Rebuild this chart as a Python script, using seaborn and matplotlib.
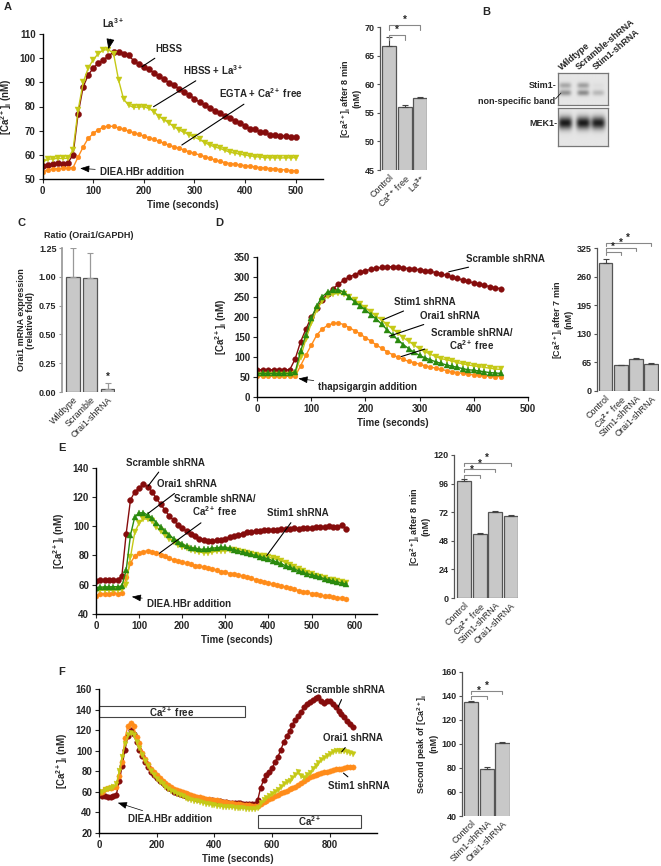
import numpy as np
import matplotlib
matplotlib.use('Agg')
import matplotlib.pyplot as plt
from matplotlib.patches import Rectangle
import seaborn as sns

sns.set_theme(style='ticks')
plt.rcParams['font.family'] = ['Liberation Sans', 'DejaVu Sans']
plt.rcParams['font.weight'] = 'bold'
plt.rcParams['axes.labelweight'] = 'bold'
plt.rcParams['mathtext.fontset'] = 'custom'
plt.rcParams['mathtext.rm'] = 'Liberation Sans:bold'
plt.rcParams['mathtext.it'] = 'Liberation Sans:bold'
plt.rcParams['mathtext.bf'] = 'Liberation Sans:bold'
plt.rcParams['mathtext.default'] = 'rm'

# ---------------- data ----------------
# Panel A: traces (time in s, [Ca2+]i in nM)
a_time = list(range(0, 510, 10))
a_hbss = [55.4, 55.8, 56.0, 56.4, 56.2, 56.6, 60.0, 77.0, 88.2, 93.1, 96.0, 98.0, 99.3, 101.0, 102.6, 102.8,
          102.0, 101.2, 99.0, 97.5, 96.3, 95.4, 94.0, 92.5, 91.3, 89.8, 88.8, 87.2, 86.0, 84.8, 83.3, 81.8,
          80.8, 79.5, 78.2, 77.4, 76.0, 75.2, 74.0, 73.2, 72.0, 70.8, 70.6, 69.5, 69.2, 68.2, 68.3, 67.6,
          67.9, 67.3, 67.2]
a_hbss_la = [57.0, 58.0, 58.3, 58.4, 58.4, 58.5, 62.0, 78.5, 90.0, 96.0, 99.5, 102.0, 103.5, 103.6, 102.0,
             91.0, 83.0, 80.5, 79.6, 79.8, 79.9, 79.2, 77.8, 75.8, 74.5, 73.0, 71.5, 70.2, 69.2, 68.2,
             67.2, 66.3, 65.0, 64.0, 63.2, 62.6, 61.8, 61.0, 60.6, 60.2, 59.8, 59.5, 59.2, 59.0, 58.8,
             58.7, 58.7, 58.6, 58.7, 58.7, 58.8]
a_egta = [52.9, 53.6, 54.0, 54.2, 54.3, 54.4, 54.6, 59.0, 63.2, 66.8, 68.8, 70.4, 71.4, 71.9, 71.7, 71.1,
          70.5, 69.8, 69.1, 68.4, 67.7, 67.0, 66.3, 65.5, 64.7, 63.9, 63.2, 62.6, 61.9, 61.1, 60.5, 59.9,
          59.2, 58.5, 57.8, 57.2, 56.7, 56.3, 56.0, 55.7, 55.4, 55.1, 54.9, 54.6, 54.4, 54.2, 54.0, 53.8,
          53.6, 53.4, 53.3]

# Panel A: bars
a_bar_labels = ['Control', 'Ca$^{2+}$ free', 'La$^{3+}$']
a_bar_values = [66.8, 56.1, 57.6]
a_bar_errors = [1.5, 0.35, 0.25]

# Panel B: blot band intensities (lanes: Wildtype, Scramble-shRNA, Stim1-shRNA)
b_lanes = ['Wildtype', 'Scramble-shRNA', 'Stim1-shRNA']
b_stim1_upper = [0.25, 0.28, 0.03]
b_stim1_lower = [0.33, 0.36, 0.18]
b_mek1 = [0.80, 0.80, 0.78]

# Panel C
c_labels = ['Wildtype', 'Scramble', 'Orai1-shRNA']
c_values = [1.00, 0.99, 0.03]
c_errors = [0.25, 0.22, 0.05]

# Panel D: traces
d_time = list(range(0, 460, 10))
d_scramble = [68, 68, 68, 68, 68, 68, 68, 95, 138, 170, 200, 222, 243, 258, 271, 282, 292, 300, 306, 312,
              316, 319, 322, 324, 325, 326, 325, 323, 321, 320, 318, 316, 314, 311, 308, 304, 300, 297,
              292, 289, 285, 282, 279, 276, 273, 271]
d_stim1 = [55, 55, 55, 55, 55, 55, 55, 58, 100, 145, 185, 218, 240, 252, 257, 259, 258, 250, 242, 233,
           223, 213, 202, 192, 181, 170, 160, 148, 139, 130, 120, 113, 107, 101, 96, 93, 90, 86, 83, 80,
           78, 76, 74, 72, 70, 69]
d_orai1 = [59, 59, 59, 59, 59, 59, 59, 62, 115, 155, 197, 228, 251, 262, 267, 268, 262, 250, 238, 228,
           218, 206, 195, 182, 168, 155, 143, 131, 121, 112, 104, 98, 93, 88, 84, 80, 77, 74, 71, 68,
           67, 65, 63, 61, 60, 59]
d_cafree = [52, 52, 52, 52, 52, 52, 52, 52, 78, 105, 130, 155, 170, 179, 184, 185, 181, 173, 166, 158,
            148, 140, 130, 122, 113, 106, 99, 94, 89, 86, 82, 78, 75, 72, 69, 66, 63, 61, 59, 57,
            55, 54, 53, 52, 51, 51]

# Panel D: bars
d_bar_labels = ['Control', 'Ca$^{2+}$ free', 'Stim1-shRNA', 'Orai1-shRNA']
d_bar_values = [292, 58, 72, 62]
d_bar_errors = [8, 2, 3, 2]

# Panel E: traces
e_time = list(range(0, 590, 10))
e_scramble = [62.5, 63.0, 63.0, 63.5, 63.0, 63.5, 66.0, 95.0, 118.0, 123.5, 126.0, 129.0, 127.0, 123.5,
              119.0, 115.0, 111.0, 107.0, 104.0, 101.0, 98.8, 96.5, 94.8, 93.0, 91.5, 90.8, 90.2, 90.0,
              90.3, 90.8, 91.5, 92.5, 93.5, 94.3, 95.0, 95.8, 96.2, 96.5, 96.8, 97.2, 97.4, 97.5, 97.7,
              97.9, 98.0, 98.2, 98.5, 98.3, 98.6, 99.0, 98.5, 99.3, 99.7, 99.2, 100.0, 99.5, 99.8,
              100.5, 98.0]
e_orai1 = [58.0, 58.3, 58.5, 58.5, 58.7, 58.6, 59.0, 70.0, 94.0, 106.5, 109.0, 109.3, 107.5, 105.5,
           102.5, 99.5, 96.5, 94.0, 91.5, 89.5, 87.8, 86.5, 85.3, 84.8, 84.3, 84.1, 84.5, 85.0, 85.3,
           85.6, 85.5, 84.8, 84.0, 83.2, 82.3, 81.5, 80.7, 80.0, 79.2, 78.5, 77.5, 76.5, 75.5, 74.3,
           73.0, 72.0, 70.8, 69.5, 68.4, 67.4, 66.8, 66.0, 65.0, 64.2, 63.3, 62.5, 61.8, 61.0, 60.5]
e_stim1 = [56.0, 56.2, 56.4, 56.4, 56.5, 56.5, 56.8, 60.0, 79.0, 96.0, 102.0, 105.0, 104.8, 103.5,
           99.5, 96.5, 94.0, 91.5, 89.2, 87.5, 86.0, 85.0, 84.0, 83.3, 82.3, 81.9, 82.0, 82.5, 82.8,
           83.2, 83.3, 83.5, 83.6, 83.0, 82.2, 81.5, 80.8, 80.3, 79.8, 79.5, 78.8, 78.0, 77.3, 76.5,
           75.0, 73.5, 72.0, 70.5, 69.3, 68.3, 67.2, 66.0, 65.0, 64.3, 63.5, 63.0, 62.3, 61.6, 61.0]
e_cafree = [52.0, 53.5, 54.0, 53.6, 54.2, 54.0, 54.5, 65.0, 75.0, 79.5, 81.5, 82.5, 83.3, 82.6, 81.8,
            80.3, 79.5, 78.0, 77.0, 76.0, 75.5, 74.6, 74.0, 73.0, 72.8, 72.0, 71.2, 70.8, 70.0, 69.0,
            68.9, 67.5, 67.0, 66.6, 66.0, 65.0, 64.4, 63.5, 62.7, 62.1, 61.2, 60.3, 59.8, 59.0, 58.3,
            57.5, 57.0, 56.0, 55.3, 54.7, 54.0, 53.7, 53.0, 52.3, 52.0, 51.5, 51.0, 50.7, 50.0]

# Panel E: bars
e_bar_labels = ['Control', 'Ca$^{2+}$ free', 'Stim1-shRNA', 'Orai1-shRNA']
e_bar_values = [98.5, 53.5, 72.5, 69.0]
e_bar_errors = [1.5, 0.7, 0.6, 0.6]

# Panel F: traces
f_time = list(range(0, 890, 10))
f_scramble = [58.3, 55.8, 55.5, 55.1, 55.0, 55.4, 57.0, 70.0, 85.0, 101.0, 114.0, 120.0, 116.0, 108.0,
              101.0, 95.0, 89.2, 84.0, 79.5, 76.2, 73.0, 70.0, 68.0, 66.0, 64.0, 62.3, 60.0, 58.8, 57.8,
              56.8, 55.8, 55.1, 54.4, 53.8, 53.2, 52.7, 52.4, 52.0, 51.8, 51.5, 51.2, 50.8, 50.4, 50.0,
              49.5, 49.2, 49.0, 48.8, 48.7, 48.6, 48.4, 48.2, 48.1, 48.0, 48.0, 52.0, 64.0, 71.0, 76.0,
              79.0, 83.0, 89.0, 94.0, 101.0, 108.0, 114.0, 119.0, 125.0, 130.0, 134.0, 138.0, 142.0,
              145.0, 147.0, 149.0, 151.0, 152.5, 148.0, 146.0, 148.0, 148.0, 145.0, 142.0, 139.0, 136.0,
              133.0, 129.0, 126.0, 123.0]
f_stim1 = [58.3, 60.0, 62.5, 63.2, 63.6, 64.2, 65.0, 75.0, 89.0, 112.0, 124.0, 127.0, 123.5, 113.0,
           107.0, 98.0, 92.0, 87.0, 82.0, 79.0, 76.0, 73.0, 70.0, 68.0, 66.0, 64.5, 63.0, 62.0, 61.0,
           60.0, 59.0, 58.0, 57.0, 56.0, 55.2, 54.4, 53.6, 53.0, 52.6, 52.2, 51.8, 51.4, 50.8, 50.3,
           49.8, 49.3, 48.6, 48.2, 47.8, 47.6, 47.2, 47.0, 46.7, 46.4, 46.2, 46.2, 48.0, 49.5, 51.0,
           52.5, 54.0, 55.3, 56.8, 58.2, 59.5, 61.0, 62.4, 63.8, 65.0, 66.5, 68.0, 70.0, 72.0, 74.0,
           75.5, 76.3, 77.5, 78.3, 79.0, 79.6, 80.3, 81.0, 81.6, 82.0, 82.5, 83.0, 83.6, 84.0, 84.3]
f_orai1 = [58.3, 60.0, 61.5, 62.5, 63.5, 64.5, 67.0, 80.0, 94.0, 106.0, 115.0, 117.4, 115.0, 108.0,
           103.0, 96.0, 90.0, 85.0, 80.0, 76.0, 72.5, 69.5, 67.0, 64.8, 62.7, 61.0, 59.3, 57.8, 56.5,
           55.3, 54.2, 53.0, 52.0, 51.3, 50.6, 49.8, 49.1, 48.4, 47.8, 47.2, 46.7, 46.2, 45.9, 45.5,
           45.2, 44.9, 44.7, 44.5, 44.2, 44.0, 43.7, 43.5, 43.2, 43.0, 42.8, 44.0, 48.5, 51.5, 53.5,
           55.5, 57.5, 60.0, 62.0, 64.5, 67.0, 69.0, 70.8, 73.0, 76.0, 79.0, 75.0, 73.5, 76.0, 78.0,
           82.0, 85.0, 88.0, 91.0, 93.0, 95.0, 97.0, 99.0, 99.5, 100.0, 100.0, 99.5, 98.5, 97.5, 97.0]

# Panel F: bars
f_bar_labels = ['Control', 'Stim1-shRNA', 'Orai1-shRNA']
f_bar_values = [135.0, 79.5, 101.0]
f_bar_errors = [1.0, 1.0, 0.7]

RED = '#850c0c'
YEL = '#c5c916'
ORA = '#ff8c1a'
GRN = '#2a8a0e'
BARC = '#c8c8c8'
CA_LABEL = '[Ca$^{2+}$]$_{\\rm i}$ (nM)'

# ---------------- layout helpers ----------------
W, H = 661, 866
fig = plt.figure(figsize=(W / 100, H / 100), dpi=100)


def add_ax(x0, y0, x1, y1):
    return fig.add_axes([x0 / W, 1 - y1 / H, (x1 - x0) / W, (y1 - y0) / H])


def style_ax(ax, fs=7):
    sns.despine(ax=ax)
    ax.tick_params(labelsize=fs, length=3, width=0.8, pad=2)
    for s in ('left', 'bottom'):
        ax.spines[s].set_linewidth(1.0)
        ax.spines[s].set_color('black')
    for lab in ax.get_xticklabels() + ax.get_yticklabels():
        lab.set_fontweight('bold')


def trace(ax, t, y, color, marker, ms):
    sns.lineplot(x=t, y=y, ax=ax, color=color, marker=marker, markersize=ms,
                 markeredgewidth=0.3, markeredgecolor=color, linewidth=1.0, errorbar=None)


def label_line(ax, text, xy, xytext, ha='left', va='center'):
    ax.annotate(text, xy=xy, xytext=xytext, fontsize=7, fontweight='bold', ha=ha, va=va,
                annotation_clip=False,
                arrowprops=dict(arrowstyle='-', color='black', lw=0.8, shrinkA=1, shrinkB=0))


def add_arrow(ax, text, tip, tail, color='#555555'):
    ax.annotate(text, xy=tip, xytext=tail, fontsize=7, fontweight='bold', ha='left', va='center',
                annotation_clip=False,
                arrowprops=dict(arrowstyle='-|>,head_width=0.3,head_length=0.8', color='black',
                                lw=0.5, shrinkA=1, shrinkB=0))


def bar_panel(ax, labels, values, errors, ylim, yticks, ylabel, xlim):
    sns.barplot(x=labels, y=values, ax=ax, color=BARC, edgecolor='#555555', linewidth=0.9,
                width=0.9, saturation=1)
    lo = [0] * len(values)
    ax.errorbar(range(len(values)), values, yerr=[lo, errors], fmt='none', ecolor='#444444',
                elinewidth=0.8, capsize=2.2, capthick=0.8)
    ax.set_ylim(*ylim)
    ax.set_xlim(*xlim)
    ax.set_yticks(yticks)
    sns.despine(ax=ax, bottom=True)
    ax.spines['left'].set_color('#555555')
    ax.spines['left'].set_linewidth(0.9)
    ax.tick_params(axis='y', labelsize=6.5, length=2.5, width=0.8, pad=1.5, color='#555555')
    ax.tick_params(axis='x', length=0, pad=2)
    ax.set_xticks(range(len(labels)))
    ax.set_xticklabels(labels, rotation=45, ha='right', rotation_mode='anchor', fontsize=6.5,
                       fontweight='normal')
    for lab in ax.get_yticklabels():
        lab.set_fontweight('bold')
    ax.set_ylabel(ylabel, fontsize=6.5, fontweight='bold', labelpad=2, linespacing=1.0)


def bracket(ax, x1, x2, y, drop):
    ax.plot([x1, x1, x2, x2], [y - drop, y, y, y - drop], color='#888888', lw=0.8, clip_on=False)
    ax.text((x1 + x2) / 2, y, '*', ha='center', va='bottom', fontsize=7, fontweight='bold',
            clip_on=False)


def panel_letter(x, y, s):
    fig.text(x / W, 1 - y / H, s, fontsize=8, fontweight='bold', ha='left', va='center')


# ---------------- Panel A ----------------
ax = add_ax(42.7, 34.3, 323, 178.7)
trace(ax, a_time, a_hbss, RED, 'o', 4.4)
trace(ax, a_time, a_hbss_la, YEL, 'v', 4.0)
trace(ax, a_time, a_egta, ORA, 'o', 3.4)
ax.set_xlim(0, 554)
ax.set_ylim(50, 110)
ax.set_xticks(range(0, 600, 100))
ax.set_yticks(range(50, 120, 10))
style_ax(ax)
ax.set_xlabel('Time (seconds)', fontsize=7, fontweight='bold', labelpad=3)
ax.set_ylabel(CA_LABEL, fontsize=7, fontweight='bold', labelpad=4)
ax.annotate('La$^{3+}$', xy=(130, 103.8), xytext=(140, 114.5), fontsize=7, ha='center', va='center',
            annotation_clip=False,
            arrowprops=dict(arrowstyle='-|>,head_width=0.35,head_length=0.9', color='black',
                            lw=0.6, shrinkA=4, shrinkB=0))
label_line(ax, 'HBSS', (196, 96.5), (222, 103.8))
label_line(ax, 'HBSS + La$^{3+}$', (219, 79.9), (278, 95.2))
label_line(ax, 'EGTA + Ca$^{2+}$ free', (275, 64), (348, 85.5))
add_arrow(ax, 'DIEA.HBr addition', (74, 54.3), (113, 52.6))

ax = add_ax(380, 27.3, 427.4, 170)
bar_panel(ax, a_bar_labels, a_bar_values, a_bar_errors, (45, 70), range(45, 75, 5),
          '[Ca$^{2+}$]$_{\\rm i}$ after 8 min\n(nM)', (-0.57, 2.45))
bracket(ax, 0, 1, 68.7, 0.9)
bracket(ax, 0, 2, 70.4, 0.9)
panel_letter(4, 7, 'A')

# ---------------- Panel B ----------------
panel_letter(482, 12, 'B')
lane_x = [0.14, 0.5, 0.8]


def blot_image(rows, h=64, w=98):
    yy, xx = np.mgrid[0:h, 0:w]
    img = np.full((h, w), 0.9)
    for yc, sy, sx, inten in rows:
        for xc, a in zip(lane_x, inten):
            img -= a * np.exp(-((xx / w - xc) / sx) ** 4) * np.exp(-((yy / h - yc) / sy) ** 2)
    return np.clip(img, 0, 1)


def blot_frame(ax):
    ax.set_xticks([])
    ax.set_yticks([])
    for s in ax.spines.values():
        s.set_visible(True)
        s.set_color('#777777')
        s.set_linewidth(0.9)


ax = add_ax(558, 73, 608, 105)
ax.imshow(blot_image([(0.38, 0.09, 0.12, b_stim1_upper), (0.61, 0.09, 0.12, b_stim1_lower)]),
          cmap='gray', vmin=0, vmax=1, aspect='auto', interpolation='bicubic')
blot_frame(ax)
ax = add_ax(558, 108, 608, 146)
ax.imshow(blot_image([(0.40, 0.16, 0.14, b_mek1)]), cmap='gray', vmin=0, vmax=1, aspect='auto',
          interpolation='bicubic')
blot_frame(ax)
for xp, lab in zip([563, 580, 597], b_lanes):
    fig.text(xp / W, 1 - 72 / H, lab, rotation=40, rotation_mode='anchor', ha='left', va='bottom',
             fontsize=6.5, fontweight='bold')
fig.text(557 / W, 1 - 86 / H, 'Stim1-', ha='right', va='center', fontsize=6.5, fontweight='bold')
fig.text(555 / W, 1 - 102 / H, 'non-specific band', ha='right', va='center', fontsize=6.5,
         fontweight='bold')
fig.add_artist(plt.Line2D([555.5 / W, 561 / W], [1 - 99 / H, 1 - 93 / H], color='black', lw=0.5))
fig.text(557 / W, 1 - 123 / H, 'MEK1-', ha='right', va='center', fontsize=6.5, fontweight='bold')

# ---------------- Panel C ----------------
panel_letter(18, 223, 'C')
ax = add_ax(62, 248, 115.3, 392)
sns.barplot(x=c_labels, y=c_values, ax=ax, color=BARC, edgecolor='#555555', linewidth=0.9,
            width=0.8, saturation=1)
ax.errorbar(range(3), c_values, yerr=[[0, 0, 0], c_errors], fmt='none', ecolor='#999999',
            elinewidth=0.9, capsize=2.5, capthick=0.8)
ax.set_ylim(0, 1.25)
ax.set_xlim(-0.64, 2.45)
ax.set_yticks([0, 0.25, 0.5, 0.75, 1.0, 1.25])
ax.set_yticklabels(['0.00', '0.25', '0.50', '0.75', '1.00', '1.25'])
sns.despine(ax=ax, bottom=True)
ax.spines['left'].set_color('#999999')
ax.tick_params(axis='y', labelsize=6.5, length=2.5, width=0.8, pad=1.5, color='#999999')
ax.tick_params(axis='x', length=0, pad=2)
ax.set_xticks(range(3))
ax.set_xticklabels(c_labels, rotation=45, ha='right', rotation_mode='anchor', fontsize=6.5,
                   fontweight='normal')
for lab in ax.get_yticklabels():
    lab.set_fontweight('bold')
ax.set_ylabel('Orai1 mRNA expression\n(relative fold)', fontsize=6.5, fontweight='bold',
              labelpad=3, linespacing=1.0)
ax.set_title('Ratio (Orai1/GAPDH)', fontsize=6.5, fontweight='bold', pad=7)
ax.text(2, c_values[2] + c_errors[2] + 0.01, '*', ha='center', va='bottom', fontsize=7,
        fontweight='bold')

# ---------------- Panel D ----------------
panel_letter(215, 223, 'D')
ax = add_ax(257.3, 257, 527.7, 397)
trace(ax, d_time, d_scramble, RED, 'o', 4.0)
trace(ax, d_time, d_cafree, ORA, 'o', 3.4)
trace(ax, d_time, d_stim1, YEL, 'v', 3.8)
trace(ax, d_time, d_orai1, GRN, '^', 3.8)
ax.set_xlim(0, 500)
ax.set_ylim(0, 350)
ax.set_xticks(range(0, 600, 100))
ax.set_yticks(range(0, 400, 50))
style_ax(ax)
ax.set_xlabel('Time (seconds)', fontsize=7, fontweight='bold', labelpad=3)
ax.set_ylabel(CA_LABEL, fontsize=7, fontweight='bold', labelpad=4)
label_line(ax, 'Scramble shRNA', (354, 313), (386, 346))
label_line(ax, 'Stim1 shRNA', (232, 193), (252, 237))
label_line(ax, 'Orai1 shRNA', (244, 152), (300, 203))
ax.annotate('Scramble shRNA/\nCa$^{2+}$ free', xy=(266, 101), xytext=(396, 143), fontsize=7,
            fontweight='bold', ha='center', va='center', linespacing=1.0, annotation_clip=False,
            arrowprops=dict(arrowstyle='-', color='black', lw=0.8, shrinkA=2, shrinkB=0,
                            relpos=(0.15, 0.35)))
add_arrow(ax, 'thapsigargin addition', (76, 46), (113, 24))

ax = add_ax(597, 248, 658.7, 391)
bar_panel(ax, d_bar_labels, d_bar_values, d_bar_errors, (0, 325), range(0, 390, 65),
          '[Ca$^{2+}$]$_{\\rm i}$ after 7 min\n(nM)', (-0.56, 3.5))
bracket(ax, 0, 1, 316, 8)
bracket(ax, 0, 2, 326, 8)
bracket(ax, 0, 3, 337, 8)

# ---------------- Panel E ----------------
panel_letter(58, 448, 'E')
ax = add_ax(96, 467.7, 376.7, 614)
trace(ax, e_time, e_scramble, RED, 'o', 4.2)
trace(ax, e_time, e_cafree, ORA, 'o', 3.6)
trace(ax, e_time, e_stim1, YEL, 'v', 3.8)
trace(ax, e_time, e_orai1, GRN, '^', 3.8)
ax.set_xlim(0, 651)
ax.set_ylim(40, 140)
ax.set_xticks(range(0, 700, 100))
ax.set_yticks(range(40, 160, 20))
style_ax(ax)
ax.set_xlabel('Time (seconds)', fontsize=7, fontweight='bold', labelpad=3)
ax.set_ylabel(CA_LABEL, fontsize=7, fontweight='bold', labelpad=4)
label_line(ax, 'Scramble shRNA', (121, 127.5), (162, 143.4), ha='center')
label_line(ax, 'Orai1 shRNA', (121, 108.8), (210, 128.6), ha='center')
ax.annotate('Scramble shRNA/\nCa$^{2+}$ free', xy=(147, 81.5), xytext=(276, 113.8), fontsize=7,
            fontweight='bold', ha='center', va='center', linespacing=1.0, annotation_clip=False,
            arrowprops=dict(arrowstyle='-', color='black', lw=0.8, shrinkA=2, shrinkB=0,
                            relpos=(0.45, 0.1)))
label_line(ax, 'Stim1 shRNA', (396, 79.9), (468, 108.8), ha='center')
add_arrow(ax, 'DIEA.HBr addition', (83, 51.8), (118, 46.5))

ax = add_ax(454, 455, 517.5, 598)
bar_panel(ax, e_bar_labels, e_bar_values, e_bar_errors, (0, 120), range(0, 144, 24),
          '[Ca$^{2+}$]$_{\\rm i}$ after 8 min\n(nM)', (-0.65, 3.45))
bracket(ax, 0, 1, 103.2, 2.5)
bracket(ax, 0, 2, 108.0, 2.5)
bracket(ax, 0, 3, 113.0, 2.5)

# ---------------- Panel F ----------------
panel_letter(58, 672, 'F')
ax = add_ax(99, 689, 376.7, 832.7)
trace(ax, f_time, f_scramble, RED, 'o', 4.0)
trace(ax, f_time, f_stim1, ORA, 'o', 3.8)
trace(ax, f_time, f_orai1, YEL, 'v', 3.6)
ax.set_xlim(0, 962)
ax.set_ylim(20, 160)
ax.set_xticks(range(0, 1000, 200))
ax.set_yticks(range(20, 180, 20))
style_ax(ax)
ax.set_xlabel('Time (seconds)', fontsize=7, fontweight='bold', labelpad=3)
ax.set_ylabel(CA_LABEL, fontsize=7, fontweight='bold', labelpad=4)
ax.add_patch(Rectangle((0, 132.5), 505, 10.5, fill=False, ec='#444444', lw=0.8, clip_on=False))
ax.text(252, 137.5, 'Ca$^{2+}$ free', ha='center', va='center', fontsize=7, fontweight='bold')
ax.add_patch(Rectangle((552, 25), 355, 12, fill=False, ec='#444444', lw=0.8, clip_on=False))
ax.text(730, 31, 'Ca$^{2+}$', ha='center', va='center', fontsize=7, fontweight='bold')
label_line(ax, 'Scramble shRNA', (829, 142.7), (855, 159), ha='center')
label_line(ax, 'Orai1 shRNA', (841, 98.9), (880, 112), ha='center')
label_line(ax, 'Stim1 shRNA', (847, 78), (900, 65.5), ha='center')
add_arrow(ax, 'DIEA.HBr addition', (65, 49.2), (100, 33))

ax = add_ax(462, 671.7, 510, 816)
bar_panel(ax, f_bar_labels, f_bar_values, f_bar_errors, (40, 160), range(40, 180, 20),
          'Second peak of [Ca$^{2+}$]$_{\\rm i}$\n(nM)', (-0.59, 2.48))
bracket(ax, 0, 1, 140.0, 2.5)
bracket(ax, 0, 2, 144.2, 2.5)

fig.savefig('out.png', dpi=100)
